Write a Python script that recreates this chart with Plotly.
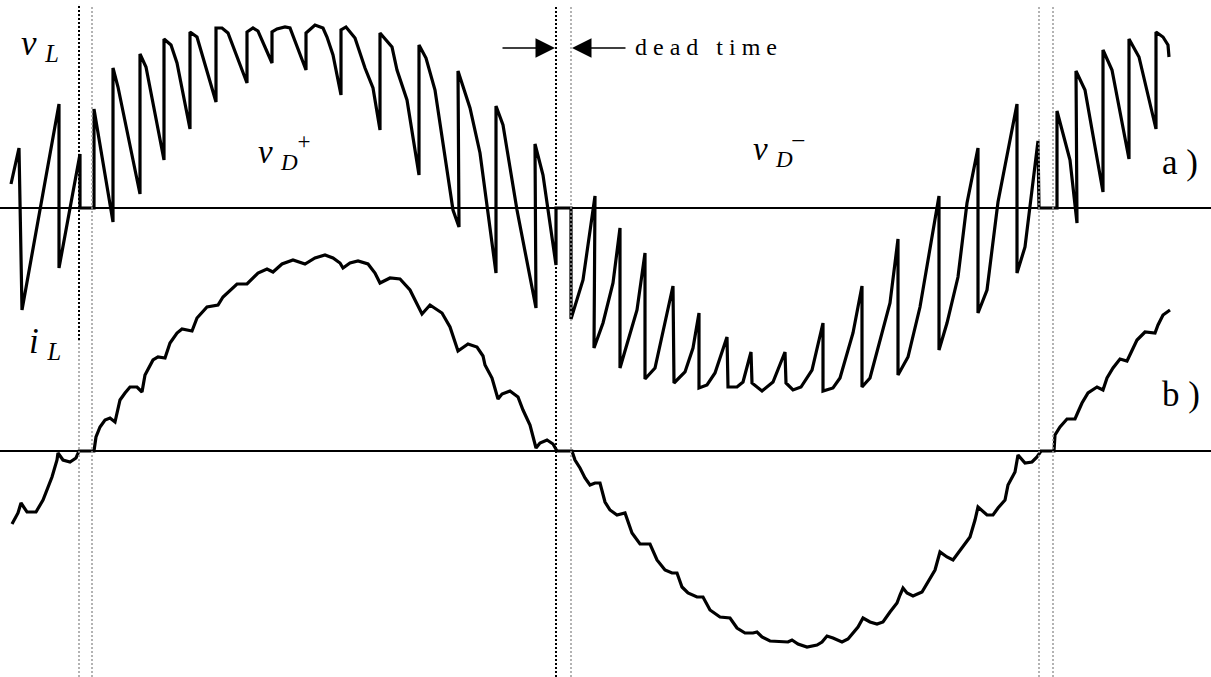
import plotly.graph_objects as go

W, H = 1211, 677

# ---- data (time in arbitrary units, baseline = 0) ----
vL_t = [11, 19, 22, 59, 59, 80, 80, 94, 94, 113, 113, 118, 140, 140, 146, 164, 164, 171, 177, 190, 190,
        197, 216, 216, 222, 228, 247, 247, 253, 258, 272, 272, 277, 285, 290, 306, 306, 315, 323, 327,
        333, 341, 341, 346, 355, 365, 373, 380, 380, 392, 397, 407, 419, 419, 426, 435, 453, 459, 458,
        470, 480, 496, 496, 503, 517, 536, 535, 543, 556, 556, 571, 571, 583, 595, 594, 603, 613, 620,
        620, 637, 645, 645, 655, 673, 674, 685, 693, 699, 699, 707, 715, 727, 728, 737, 743, 751, 752,
        762, 773, 785, 786, 793, 801, 812, 823, 823, 833, 840, 853, 862, 862, 870, 890, 898, 898, 908,
        920, 939, 939, 947, 958, 967, 978, 978, 987, 998, 1017, 1017, 1025, 1038, 1039, 1057, 1057,
        1070, 1077, 1076, 1085, 1103, 1103, 1112, 1129, 1129, 1139, 1156, 1156, 1163, 1168, 1169]
vL_v = [24, 60, -102, 104, -60, 54, 0, 0, 99, -14, 140, 121, 14, 154, 141, 48, 169, 163, 145, 79, 176,
        171, 106, 180, 180, 175, 125, 176, 180, 177, 145, 176, 179, 181, 180, 138, 175, 183, 180, 171,
        153, 113, 178, 181, 170, 140, 120, 78, 175, 161, 138, 108, 33, 163, 150, 118, -2, -19, 137,
        100, 55, -65, 102, 83, -2, -100, 64, 33, -57, 0, 0, -111, -72, 12, -140, -115, -75, -20,
        -160, -102, -45, -171, -160, -78, -175, -164, -140, -105, -180, -177, -165, -129, -179, -179, -174, -144, -175,
        -183, -174, -144, -175, -182, -179, -162, -115, -183, -180, -170, -125, -78, -179, -170, -95, -31, -167, -149,
        -99, 12, -142, -115, -69, 5, 60, -105, -82, 6, 104, -65, -39, 67, 0, 0, 97,
        48, -15, 137, 118, 16, 158, 138, 49, 169, 151, 79, 176, 171, 163, 151]

iL_t = [12, 18, 21, 27, 36, 43, 52, 57, 58, 63, 70, 76, 79, 94, 96, 100, 105, 110, 115, 120, 125, 130,
        137, 142, 145, 153, 158, 165, 170, 177, 182, 192, 197, 207, 218, 223, 237, 247, 258, 267, 273,
        282, 293, 305, 315, 325, 333, 340, 343, 350, 358, 368, 375, 380, 390, 400, 410, 415, 422, 430,
        442, 450, 458, 468, 477, 483, 485, 492, 498, 502, 510, 518, 523, 530, 536, 540, 547, 553, 557,
        572, 575, 580, 585, 590, 595, 600, 605, 610, 617, 625, 632, 640, 650, 657, 665, 672, 677, 682,
        688, 697, 703, 710, 720, 730, 737, 745, 753, 757, 762, 770, 788, 792, 798, 807, 817, 822, 827,
        833, 842, 848, 853, 858, 863, 870, 877, 883, 890, 897, 900, 903, 907, 913, 922, 928, 935, 940,
        947, 953, 962, 970, 975, 978, 987, 993, 998, 1005, 1008, 1015, 1018, 1025, 1032, 1037, 1041,
        1054, 1055, 1060, 1067, 1075, 1078, 1082, 1088, 1097, 1103, 1107, 1113, 1120, 1127, 1131, 1137,
        1145, 1155, 1158, 1163, 1170]
iL_i = [-73, -62, -52, -61, -61, -49, -26, -9, -2, -9, -11, -7, 0, 0, 14, 24, 31, 33, 29, 51, 58, 64,
        64, 59, 76, 91, 94, 93, 108, 118, 122, 120, 133, 144, 146, 154, 167, 167, 178, 182, 179,
        187, 191, 187, 193, 196, 193, 188, 183, 188, 190, 187, 178, 168, 173, 172, 161, 151, 137, 146,
        138, 124, 100, 107, 104, 95, 86, 73, 52, 57, 60, 54, 41, 26, 3, 8, 11, 7, 0,
        0, -9, -17, -27, -34, -32, -32, -51, -59, -64, -62, -82, -93, -93, -109, -119, -122, -122, -136,
        -142, -146, -146, -159, -166, -167, -177, -182, -182, -181, -186, -190, -191, -189, -193, -196, -194, -191, -185,
        -187, -191, -188, -182, -176, -167, -171, -173, -171, -161, -152, -144, -137, -142, -145, -141, -131, -119, -101,
        -106, -109, -97, -86, -69, -56, -64, -64, -57, -49, -34, -21, -4, -12, -11, -6, 0,
        0, 16, 24, 32, 32, 39, 48, 58, 64, 61, 73, 83, 92, 90, 99, 111,
        119, 118, 126, 136, 141]

dead_start = [79, 556, 1039]
dead_end = [92, 571, 1053]

SERIF = "Liberation Serif, Times New Roman, serif"

fig = go.Figure()
fig.add_trace(go.Scatter(x=vL_t, y=vL_v, mode="lines", yaxis="y",
                         line=dict(color="black", width=3.2), hoverinfo="skip"))
fig.add_trace(go.Scatter(x=iL_t, y=iL_i, mode="lines", yaxis="y2",
                         line=dict(color="black", width=3.2), hoverinfo="skip"))

def py(p):
    return 1 - p / H

DARK = dict(color="black", width=2, dash="2px,2px")
GRAY = dict(color="#9a9a9a", width=1.5, dash="2px,2px")

shapes = []
# dead-time boundaries (dotted verticals)
for k, (xs, xe) in enumerate(zip(dead_start, dead_end)):
    if k == 0:
        shapes.append(dict(type="line", xref="x", yref="paper", x0=xs, x1=xs, y0=py(340), y1=py(5), line=DARK))
        shapes.append(dict(type="line", xref="x", yref="paper", x0=xs, x1=xs, y0=0, y1=py(340), line=GRAY))
    elif k == 1:
        shapes.append(dict(type="line", xref="x", yref="paper", x0=xs, x1=xs, y0=0, y1=py(5), line=DARK))
    else:
        shapes.append(dict(type="line", xref="x", yref="paper", x0=xs, x1=xs, y0=0, y1=py(5), line=GRAY))
    shapes.append(dict(type="line", xref="x", yref="paper", x0=xe, x1=xe, y0=0, y1=py(5), line=GRAY))

def label(text, x, y, size, xanchor="left"):
    return dict(text=text, x=x, y=py(y), xref="x", yref="paper", showarrow=False,
                xanchor=xanchor, yanchor="middle", font=dict(family=SERIF, size=size, color="black"))

def arrow(tip, tail):
    return dict(x=tip, y=py(48), ax=tail, ay=0, xref="x", yref="paper",
                axref="x", ayref="pixel", text="", showarrow=True, arrowhead=2, arrowsize=2.6,
                arrowwidth=1.5, arrowcolor="black")

annotations = [
    label("<i>v</i> <sub><i>L</i></sub>", 19, 46, 35),
    label("<i>v</i> <sub><i>D</i></sub><sup>+</sup>", 256, 152, 33),
    label("<i>v</i> <sub><i>D</i></sub><sup>\u2013</sup>", 751, 149, 33),
    label("<i>i</i> <sub><i>L</i></sub>", 27, 343, 35),
    label("a )", 1160, 163, 35),
    label("b )", 1160, 394, 35),
    label("d e a d   t i m e", 633, 47, 24),
    arrow(dead_start[1] - 1, dead_start[1] - 55),
    arrow(dead_end[1] + 1, dead_end[1] + 56),
]

fig.update_layout(
    width=W, height=H,
    margin=dict(l=0, r=0, t=0, b=0),
    paper_bgcolor="white", plot_bgcolor="white",
    showlegend=False,
    xaxis=dict(range=[0, W], showgrid=False, zeroline=False, showticklabels=False, ticks="",
               showline=False, fixedrange=True),
    yaxis=dict(range=[208 - H, 208], showgrid=False, zeroline=True, zerolinecolor="black",
               zerolinewidth=1.5, showticklabels=False, ticks="", showline=False, fixedrange=True),
    yaxis2=dict(range=[451 - H, 451], overlaying="y", showgrid=False, zeroline=True,
                zerolinecolor="black", zerolinewidth=1.5, showticklabels=False, ticks="",
                showline=False, fixedrange=True),
    shapes=shapes,
    annotations=annotations,
)

fig.write_html("out.html", config=dict(displayModeBar=False),
               post_script="document.body.style.margin='0';document.body.style.padding='0';"
                           "document.body.style.overflow='hidden';")
